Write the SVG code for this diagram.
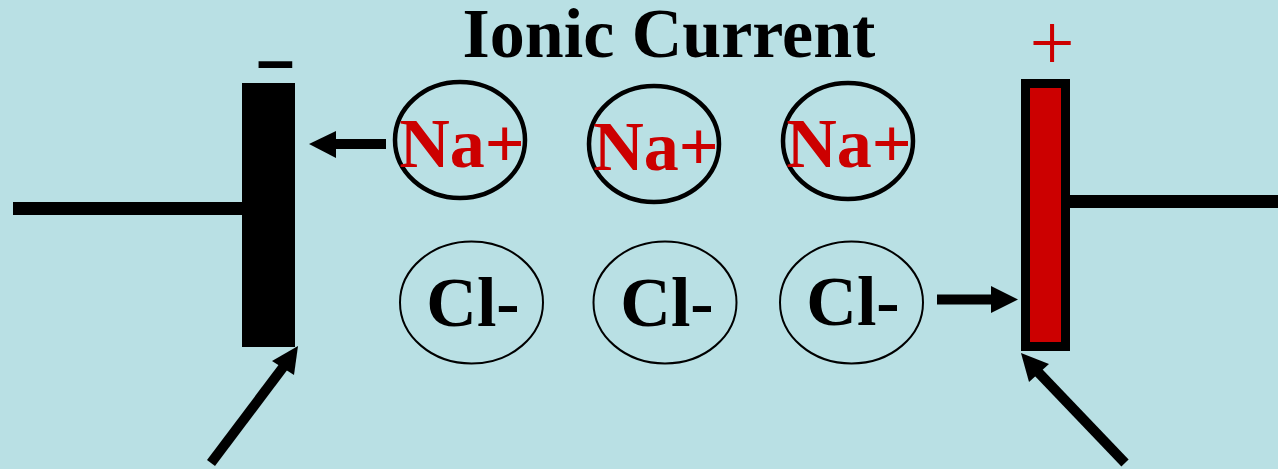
<svg xmlns="http://www.w3.org/2000/svg" width="1278" height="469" viewBox="0 0 1278 469">
<style>
.t{font-family:"Liberation Serif","Times New Roman",serif;font-weight:bold;text-anchor:middle}
.na{fill:#CC0000;font-size:70px}
.cl{fill:#000;font-size:70px}
.nac{fill:none;stroke:#000;stroke-width:4.5}
.clc{fill:none;stroke:#000;stroke-width:2}
.sh{stroke:#000;stroke-width:10;fill:none}
.hd{fill:#000}
.wire{stroke:#000;stroke-width:13}
</style>
<rect x="0" y="0" width="1278" height="469" fill="#B9E0E4"/>
<text class="t" x="669" y="57" font-size="70" fill="#000">Ionic Current</text>
<g id="cathode">
<line class="wire" x1="13" y1="208.5" x2="243" y2="208.5"/>
<rect x="242" y="83" width="53" height="264" fill="#000"/>
<text x="275.5" y="83" font-family="Liberation Sans, Arial, sans-serif" font-weight="bold" font-size="68" text-anchor="middle" fill="#000">–</text>
</g>
<g id="anode">
<line class="wire" x1="1069" y1="201.5" x2="1278" y2="201.5"/>
<rect x="1025.5" y="83.5" width="40" height="263" fill="#CC0000" stroke="#000" stroke-width="9"/>
<text x="1052" y="70" font-family="Liberation Serif, Times New Roman, serif" font-size="80" text-anchor="middle" fill="#CC0000">+</text>
</g>
<g id="na1"><ellipse class="nac" cx="460" cy="140" rx="65" ry="58"/><text class="t na" x="462" y="167">Na+</text></g>
<g id="na2"><ellipse class="nac" cx="654" cy="144" rx="65" ry="58"/><text class="t na" x="656" y="170">Na+</text></g>
<g id="na3"><ellipse class="nac" cx="848" cy="141" rx="65" ry="58"/><text class="t na" x="849" y="167">Na+</text></g>
<g id="cl1"><ellipse class="clc" cx="471.5" cy="302.5" rx="71.5" ry="61"/><text class="t cl" x="473" y="326">Cl-</text></g>
<g id="cl2"><ellipse class="clc" cx="665" cy="302.5" rx="71.5" ry="61"/><text class="t cl" x="667" y="326">Cl-</text></g>
<g id="cl3"><ellipse class="clc" cx="851.5" cy="302.5" rx="71.5" ry="61"/><text class="t cl" x="853" y="325">Cl-</text></g>
<g id="connectors">
<line class="sh" x1="386" y1="144" x2="334" y2="144"/>
<polygon class="hd" points="309,144 336,131 336,158"/>
<line class="sh" x1="937" y1="299.5" x2="993" y2="299.5"/>
<polygon class="hd" points="1018,299.5 991,286 991,313"/>
<line class="sh" x1="211" y1="463" x2="284" y2="366"/>
<polygon class="hd" points="298,346 272,361 294,375"/>
<line class="sh" x1="1125" y1="463" x2="1038" y2="372"/>
<polygon class="hd" points="1021,353 1049,364 1029,382"/>
</g>
</svg>
